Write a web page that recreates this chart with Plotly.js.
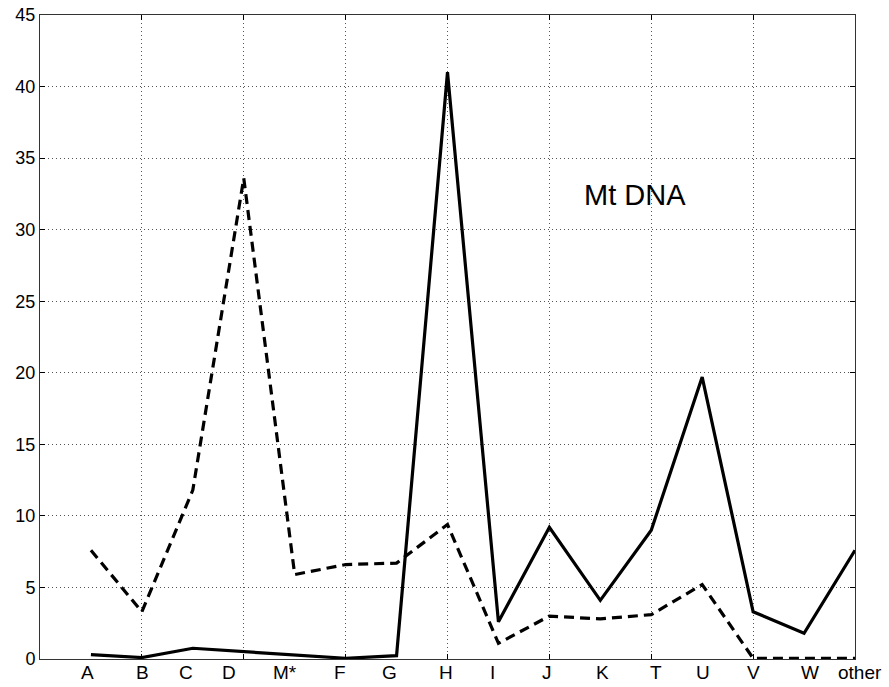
<!DOCTYPE html>
<html><head><meta charset="utf-8">
<script src="https://cdn.plot.ly/plotly-3.0.1.min.js"></script>
<style>html,body{margin:0;padding:0;background:#fff}#chart{width:889px;height:687px}</style>
</head><body><div id="chart"></div>
<script>
// categories (haplogroups) and their x positions on the numeric axis
const categories = ["A","B","C","D","M*","F","G","H","I","J","K","T","U","V","W","other"];
const xPos = [0.5,1,1.5,2,2.5,3,3.5,4,4.5,5,5.5,6,6.5,7,7.5,8];
// label positions (text objects placed under the axis, in axis units)
const labelX = [0.47,1.01,1.43,1.86,2.40,2.94,3.43,3.99,4.44,4.98,5.52,6.05,6.51,7.0,7.56,8.05];
// series values (%)
const solidVals  = [0.3,0.1,0.75,0.5,0.3,0.05,0.23,41,2.6,9.2,4.1,9.0,19.7,3.3,1.8,7.6];
const dashedVals = [7.6,3.3,11.8,33.6,5.9,6.6,6.7,9.4,1.1,3.0,2.8,3.1,5.2,0.05,0.05,0.05];
const yTicks = [0,5,10,15,20,25,30,35,40,45];
const xGridTicks = [0,1,2,3,4,5,6,7,8];
const xRange = [0,8];

const font = "Liberation Sans, Arial, Helvetica, sans-serif";

const traces = [
  {x:xPos, y:solidVals, type:'scatter', mode:'lines', line:{color:'#000', width:3.2}, showlegend:false, hoverinfo:'skip'},
  {x:xPos, y:dashedVals, type:'scatter', mode:'lines', line:{color:'#000', width:3.2, dash:'10px,6px'}, showlegend:false, hoverinfo:'skip'}
];

const annotations = categories.map((c,i)=>({
  x: (labelX[i]-xRange[0])/(xRange[1]-xRange[0]), y: 0, xref:'paper', yref:'paper', text:c, showarrow:false,
  yanchor:'top', xanchor:'center', yshift:-1,
  font:{family:font, size:19, color:'#000'}
}));
annotations.push({x:5.84, y:32.4, xref:'x', yref:'y', text:'Mt DNA', showarrow:false,
  font:{family:font, size:29, color:'#000'}});

const layout = {
  width:889, height:687,
  margin:{l:40, r:34, t:15, b:28},
  paper_bgcolor:'#fff', plot_bgcolor:'#fff',
  xaxis:{range:xRange, tickvals:xGridTicks, showticklabels:false, ticks:'inside', ticklen:5,
    tickcolor:'#000', showgrid:true, gridcolor:'#555', griddash:'1px,3px', gridwidth:1,
    zeroline:false, showline:true, linecolor:'#333', linewidth:1, mirror:'ticks'},
  yaxis:{range:[0,45], tickvals:yTicks, ticks:'inside', ticklen:5, tickcolor:'#000',
    showgrid:true, gridcolor:'#555', griddash:'1px,3px', gridwidth:1,
    zeroline:false, showline:true, linecolor:'#333', linewidth:1, mirror:'ticks',
    tickfont:{family:font, size:18, color:'#000'}},
  annotations:annotations
};
Plotly.newPlot('chart', traces, layout, {staticPlot:true});
</script></body></html>
